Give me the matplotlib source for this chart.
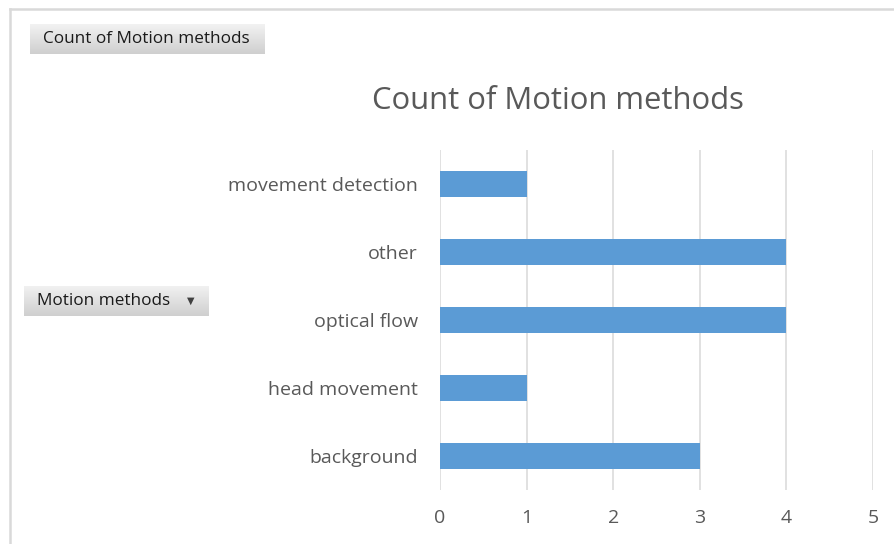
import numpy as np
import matplotlib.pyplot as plt
from matplotlib.lines import Line2D
from matplotlib.colors import LinearSegmentedColormap

plt.rcParams['font.family'] = ['Open Sans', 'DejaVu Sans']

# data (bottom to top)
categories = ["background", "head movement", "optical flow", "other", "movement detection"]
counts = [3, 1, 4, 4, 1]
xticks = [0, 1, 2, 3, 4, 5]

W, H = 895, 544
fig = plt.figure(figsize=(W / 100, H / 100), dpi=100)


def fx(px):
    return px / W


def fy(py):
    return 1 - py / H


# outer frame lines (top and left)
fig.add_artist(Line2D([fx(10), 1], [fy(9), fy(9)], color="#d9d9d9", lw=1.8))
fig.add_artist(Line2D([fx(10), fx(10)], [fy(9), 0], color="#d9d9d9", lw=1.8))

# chart area
ax = fig.add_axes([fx(440), fy(490), fx(873) - fx(440), fy(150) - fy(490)])
y = np.arange(len(categories))
ax.barh(y, counts, height=0.37, color="#5b9bd5", zorder=3)
ax.set_xlim(0, 5)
ax.set_ylim(-0.5, len(categories) - 0.5)
ax.set_xticks(xticks)
ax.set_xticklabels([str(t) for t in xticks])
ax.set_yticks(y)
ax.set_yticklabels(categories)
ax.grid(axis="x", color="#d9d9d9", lw=1.1, zorder=0)
for s in ax.spines.values():
    s.set_visible(False)
ax.tick_params(axis="both", length=0, colors="#595959", labelsize=14)
ax.tick_params(axis="y", pad=16)
ax.tick_params(axis="x", pad=14)

fig.text(fx(558), fy(101), "Count of Motion methods", ha="center", va="center",
         fontsize=22.3, color="#595959")


# pivot field buttons
def button(x0, y0, x1, y1, label, arrow=False):
    bax = fig.add_axes([fx(x0), fy(y1), fx(x1) - fx(x0), fy(y0) - fy(y1)])
    grad = np.linspace(0, 1, 50).reshape(-1, 1)
    cmap = LinearSegmentedColormap.from_list("g", ["#f2f2f2", "#cfcfcf"])
    bax.imshow(grad, aspect="auto", cmap=cmap, extent=[0, 1, 0, 1], origin="upper")
    bax.set_xlim(0, 1)
    bax.set_ylim(0, 1)
    bax.axis("off")
    bax.text(13 / (x1 - x0), 0.5, label, ha="left", va="center", fontsize=12.3,
             color="#1a1a1a")
    if arrow:
        bax.text(0.9, 0.5, "\u25bc", ha="center", va="center", fontsize=7,
                 color="#404040", family="DejaVu Sans")


button(30, 24, 265, 54, "Count of Motion methods")
button(24, 286, 209, 316, "Motion methods", arrow=True)

fig.savefig("out.png", dpi=100)
